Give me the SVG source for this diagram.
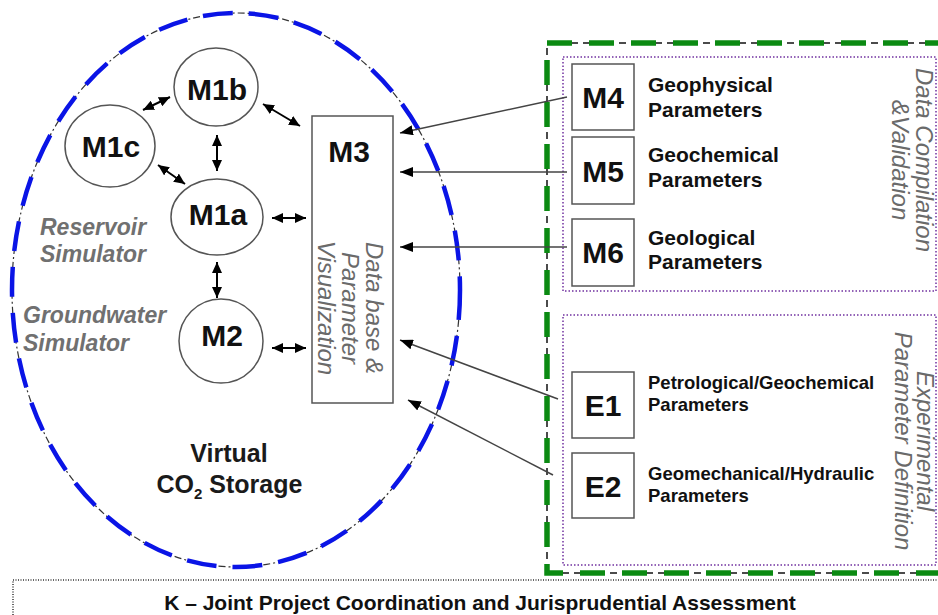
<svg xmlns="http://www.w3.org/2000/svg" width="938" height="615" viewBox="0 0 938 615">
<defs>
<marker id="ah" markerUnits="userSpaceOnUse" markerWidth="13" markerHeight="10" refX="13" refY="5" orient="auto-start-reverse"><path d="M0,0 L13,5 L0,10 z" fill="#000"/></marker>
<marker id="dh" markerUnits="userSpaceOnUse" markerWidth="11" markerHeight="10" refX="11" refY="5" orient="auto-start-reverse"><path d="M0,0 L11,5 L0,10 z" fill="#000"/></marker>
</defs>
<style>
text{font-family:"Liberation Sans",Arial,sans-serif}
.node{fill:#fff;stroke:#555;stroke-width:1.5}
.lbl{font-weight:bold;font-size:30px;fill:#111;text-anchor:middle}
.par{font-weight:bold;font-size:21px;fill:#111}
.epar{font-weight:bold;font-size:18.5px;fill:#111}
.gi{font-style:italic;font-weight:bold;font-size:23px;fill:#707070}
.vi{font-style:italic;font-size:24px;fill:#6a6a6a;text-anchor:middle}
.dbl{stroke:#000;stroke-width:2;fill:none}
.arr{stroke:#444;stroke-width:1.5;fill:none}
</style>
<rect width="938" height="615" fill="#fff"/>
<g id="virtual-storage">
<ellipse cx="236" cy="290" rx="224" ry="277" fill="none" stroke="#333" stroke-width="1.2" stroke-dasharray="7 3 2 3"/>
<ellipse cx="236" cy="290" rx="224" ry="277" fill="none" stroke="#0a14e6" stroke-width="4.5" stroke-dasharray="30 16"/>
<text x="229" y="462" text-anchor="middle" font-weight="bold" font-size="25" fill="#1a1a1a">Virtual</text>
<text x="229.5" y="493" text-anchor="middle" font-weight="bold" font-size="25" fill="#1a1a1a">CO<tspan font-size="15" dy="6">2</tspan><tspan dy="-6"> Storage</tspan></text>
<text class="gi" x="40" y="235">Reservoir</text>
<text class="gi" x="40" y="262">Simulator</text>
<text class="gi" x="23" y="323">Groundwater</text>
<text class="gi" x="23" y="351">Simulator</text>
</g>
<g id="data-compilation">
<path d="M950,43 L547,43 L547,573 L950,573" fill="none" stroke="#111" stroke-width="1.5" stroke-dasharray="7 5"/>
<path d="M950,43 L547,43 L547,573 L950,573" fill="none" stroke="#0b8a12" stroke-width="5.5" stroke-dasharray="25 17"/>
<rect x="563" y="57" width="373" height="234" fill="none" stroke="#7030a0" stroke-width="1.5" stroke-dasharray="1.5 2"/>
<text class="vi" font-size="23.5" transform="translate(908,160) rotate(90)"><tspan x="0" y="-8">Data Compilation</tspan><tspan x="0" y="16">&amp;Validation</tspan></text>
</g>
<g id="experimental">
<rect x="563" y="315" width="373" height="250" fill="none" stroke="#7030a0" stroke-width="1.5" stroke-dasharray="1.5 2"/>
<text class="vi" transform="translate(911,441) rotate(90)"><tspan x="0" y="-6">Experimental</tspan><tspan x="0" y="16">Parameter Definition</tspan></text>
</g>
<g id="M1b"><ellipse class="node" cx="216" cy="87" rx="42" ry="39"/><text class="lbl" x="217" y="100">M1b</text></g>
<g id="M1c"><ellipse class="node" cx="110" cy="146" rx="45" ry="41"/><text class="lbl" x="111" y="157">M1c</text></g>
<g id="M1a"><ellipse class="node" cx="217" cy="217" rx="46" ry="38"/><text class="lbl" x="218" y="225">M1a</text></g>
<g id="M2"><ellipse class="node" cx="221" cy="341" rx="42" ry="42"/><text class="lbl" x="222" y="346">M2</text></g>
<g id="M3">
<rect class="node" x="312" y="116" width="81" height="287"/>
<text class="lbl" x="349" y="162">M3</text>
<text class="vi" transform="translate(342,308) rotate(90)"><tspan x="0" y="-24">Data base &amp;</tspan><tspan x="0" y="0">Parameter</tspan><tspan x="0" y="24">Visualization</tspan></text>
</g>
<g id="M4"><rect class="node" x="572" y="64" width="62" height="66"/><text class="lbl" x="603" y="108">M4</text><text class="par" x="648" y="92">Geophysical</text><text class="par" x="648" y="117">Parameters</text></g>
<g id="M5"><rect class="node" x="572" y="137" width="62" height="67"/><text class="lbl" x="603" y="182">M5</text><text class="par" x="648" y="162">Geochemical</text><text class="par" x="648" y="187">Parameters</text></g>
<g id="M6"><rect class="node" x="572" y="219" width="62" height="67"/><text class="lbl" x="603" y="263">M6</text><text class="par" x="648" y="245">Geological</text><text class="par" x="648" y="269">Parameters</text></g>
<g id="E1"><rect class="node" x="572" y="372" width="62" height="66"/><text class="lbl" x="603" y="416">E1</text><text class="epar" x="648" y="389">Petrological/Geochemical</text><text class="epar" x="648" y="411">Parameters</text></g>
<g id="E2"><rect class="node" x="572" y="453" width="62" height="65"/><text class="lbl" x="603" y="497">E2</text><text class="epar" x="648" y="480">Geomechanical/Hydraulic</text><text class="epar" x="648" y="502">Parameters</text></g>
<g id="K">
<rect x="13" y="580" width="940" height="60" fill="none" stroke="#333" stroke-width="1.5" stroke-dasharray="1 1.5"/>
<text x="480" y="610" text-anchor="middle" font-weight="bold" font-size="21" fill="#111">K – Joint Project Coordination and Jurisprudential Assessment</text>
</g>
<g id="connectors">
<line class="dbl" x1="170" y1="97" x2="143" y2="110" marker-start="url(#dh)" marker-end="url(#dh)"/>
<line class="dbl" x1="158" y1="165" x2="185" y2="184" marker-start="url(#dh)" marker-end="url(#dh)"/>
<line class="dbl" x1="217" y1="135" x2="217" y2="171" marker-start="url(#dh)" marker-end="url(#dh)"/>
<line class="dbl" x1="263" y1="104" x2="300" y2="126" marker-start="url(#dh)" marker-end="url(#dh)"/>
<line class="dbl" x1="272" y1="218" x2="306" y2="218" marker-start="url(#dh)" marker-end="url(#dh)"/>
<line class="dbl" x1="217" y1="262" x2="217" y2="298" marker-start="url(#dh)" marker-end="url(#dh)"/>
<line class="dbl" x1="272" y1="348" x2="306" y2="348" marker-start="url(#dh)" marker-end="url(#dh)"/>
<line class="arr" x1="567" y1="97" x2="400" y2="133" marker-end="url(#ah)"/>
<line class="arr" x1="567" y1="172" x2="400" y2="172" marker-end="url(#ah)"/>
<line class="arr" x1="567" y1="247" x2="400" y2="247" marker-end="url(#ah)"/>
<line class="arr" x1="558" y1="399" x2="400" y2="340" marker-end="url(#ah)"/>
<line class="arr" x1="553" y1="475" x2="408" y2="400" marker-end="url(#ah)"/>
</g>
</svg>
